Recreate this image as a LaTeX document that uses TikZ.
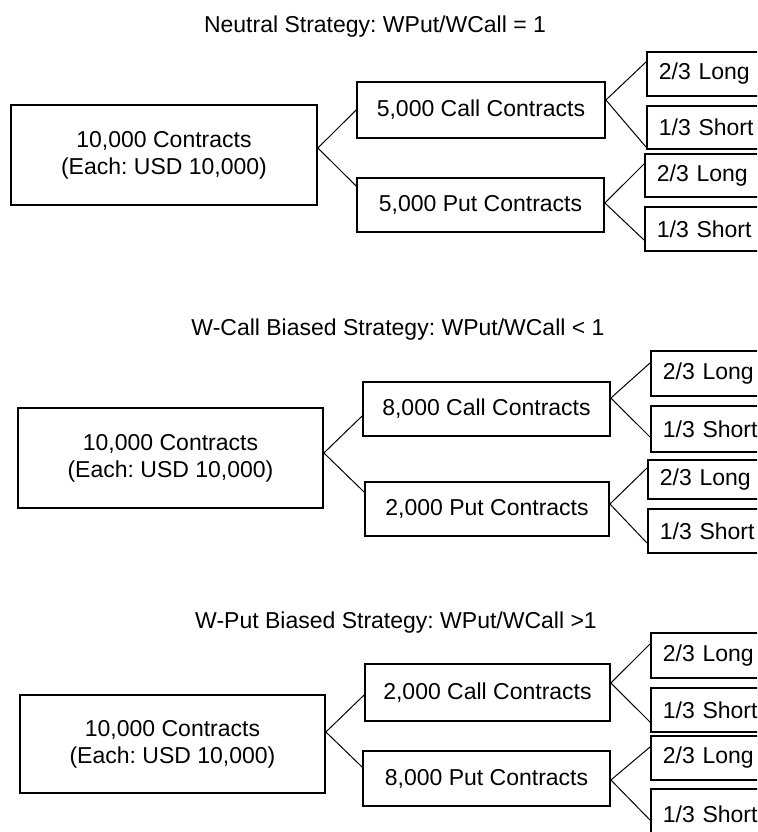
\documentclass[tikz,border=0pt]{standalone}
\usepackage{fontspec}
\setmainfont{Liberation Sans}
\frenchspacing
\begin{document}
\begin{tikzpicture}[x=0.5pt,y=-0.5pt,
  every node/.style={font=\fontsize{11.5}{13.5}\selectfont},
  title/.style={anchor=base},
  bigbox/.style={draw,line width=0.9pt,align=center,inner sep=0pt},
  midbox/.style={draw,line width=0.9pt,inner sep=0pt},
  leafbox/.style={draw,line width=0.9pt,anchor=west,inner xsep=6pt,inner ysep=0pt,text width=65pt,align=left},
  link/.style={line width=0.5pt}]
\useasboundingbox (0,0) rectangle (757,832);
\clip (0,0) rectangle (757,832);
% ---------- Panel 1 ----------
\node[title] (t1) at (375,32) {Neutral Strategy: WPut/WCall = 1};
\node[bigbox,minimum width=153pt,minimum height=50pt] (big1) at (164,155) {10,000 Contracts\\(Each: USD 10,000)};
\node[midbox,minimum width=124pt,minimum height=28pt] (call1) at (481,110) {5,000 Call Contracts};
\node[midbox,minimum width=123.5pt,minimum height=27pt] (put1) at (480.5,205) {5,000 Put Contracts};
\node[leafbox,minimum height=22pt] (l1a) at (646,74) {2/3 Long};
\node[leafbox,minimum height=21.5pt] (s1a) at (646,127.5) {1/3 Short};
\node[leafbox,minimum height=21.5pt] (l1b) at (644,175.5) {2/3 Long};
\node[leafbox,minimum height=22pt] (s1b) at (644,229) {1/3 Short};
\draw[link] (call1.west) -- ([yshift=3.5pt]big1.east) -- ([yshift=9.5pt]put1.west);
\draw[link] ([yshift=6pt]l1a.west) -- ([yshift=5pt]call1.east) -- ([yshift=-9.75pt]s1a.west);
\draw[link] ([yshift=5.75pt]l1b.west) -- ([yshift=1pt]put1.east) -- ([yshift=-5.5pt]s1b.west);
% ---------- Panel 2 ----------
\node[title] (t2) at (398,335) {W-Call Biased Strategy: WPut/WCall < 1};
\node[bigbox,minimum width=152.5pt,minimum height=50pt] (big2) at (170.5,458) {10,000 Contracts\\(Each: USD 10,000)};
\node[midbox,minimum width=123.5pt,minimum height=27pt] (call2) at (486.5,409) {8,000 Call Contracts};
\node[midbox,minimum width=122pt,minimum height=27pt] (put2) at (487,509) {2,000 Put Contracts};
\node[leafbox,minimum height=22.5pt] (l2a) at (650,373.5) {2/3 Long};
\node[leafbox,minimum height=23pt] (s2a) at (650,429) {1/3 Short};
\node[leafbox,minimum height=19.5pt] (l2b) at (647,479.5) {2/3 Long};
\node[leafbox,minimum height=22pt] (s2b) at (647,531) {1/3 Short};
\draw[link] ([yshift=-3.5pt]call2.west) -- ([yshift=2.5pt]big2.east) -- ([yshift=8.5pt]put2.west);
\draw[link] ([yshift=5.25pt]l2a.west) -- ([yshift=5.5pt]call2.east) -- ([yshift=-4pt]s2a.west);
\draw[link] ([yshift=5.75pt]l2b.west) -- ([yshift=2.5pt]put2.east) -- ([yshift=-6pt]s2b.west);
% ---------- Panel 3 ----------
\node[title] (t3) at (396,628) {W-Put Biased Strategy: WPut/WCall >1};
\node[bigbox,minimum width=152.5pt,minimum height=49pt] (big3) at (172.5,744) {10,000 Contracts\\(Each: USD 10,000)};
\node[midbox,minimum width=122.5pt,minimum height=28.5pt] (call3) at (487.5,692.5) {2,000 Call Contracts};
\node[midbox,minimum width=123.5pt,minimum height=27.5pt] (put3) at (486.5,778.5) {8,000 Put Contracts};
\node[leafbox,minimum height=22.5pt] (l3a) at (650,655.5) {2/3 Long};
\node[leafbox,minimum height=22pt] (s3a) at (650,710) {1/3 Short};
\node[leafbox,minimum height=22pt] (l3b) at (650,758) {2/3 Long};
\node[leafbox,minimum height=25pt] (s3b) at (650,814) {1/3 Short};
\draw[link] ([yshift=-1.25pt]call3.west) -- ([yshift=6pt]big3.east) -- ([yshift=5.75pt]put3.west);
\draw[link] ([yshift=5.75pt]l3a.west) -- ([yshift=4.75pt]call3.east) -- ([yshift=-6pt]s3a.west);
\draw[link] ([yshift=5.5pt]l3b.west) -- ([yshift=-0.75pt]put3.east) -- ([yshift=-3pt]s3b.west);
\end{tikzpicture}
\end{document}
